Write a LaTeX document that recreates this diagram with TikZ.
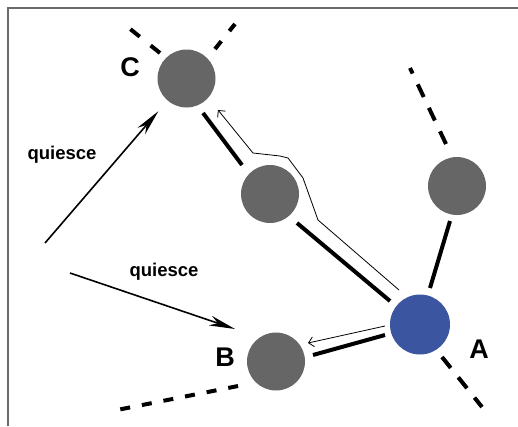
\documentclass[tikz,border=0pt]{standalone}
\usepackage{fontspec}
\setmainfont{Liberation Sans}
\usetikzlibrary{calc,arrows.meta}
\definecolor{nodegray}{HTML}{666666}
\definecolor{nodeblue}{HTML}{3C55A0}
\definecolor{framecol}{HTML}{6A6A6A}
\tikzset{
  peer/.style={circle,fill=nodegray,minimum size=58pt,inner sep=0pt},
  home/.style={circle,fill=nodeblue,minimum size=60pt,inner sep=0pt},
  link/.style={line width=4pt},
  far/.style={line width=4pt,dash pattern=on 14pt off 12pt},
  msg/.style={line width=0.8pt,-{Straight Barb[length=5pt,width=10pt]}},
  qarrow/.style={line width=1.6pt,-{Stealth[length=26pt,width=10pt,inset=8pt]}},
  biglab/.style={font=\bfseries\fontsize{27}{27}\selectfont},
  qlab/.style={font=\bfseries\fontsize{18.5}{18.5}\selectfont}
}
\begin{document}
\begin{tikzpicture}[x=1pt,y=-1pt]
\useasboundingbox (0,0) rectangle (518,426);
% frame
\draw[framecol,line width=2pt] (8,426) -- (8,8) -- (518,8);
% nodes
\node[peer] (C) at (186.5,78.5) {};
\node[peer] (M) at (270,194) {};
\node[peer] (R) at (457,186) {};
\node[home] (A) at (420,324.5) {};
\node[peer] (B) at (276,361.5) {};
% labels
\node[biglab] (lC) at (130,67) {C};
\node[biglab] (lB) at (225,357) {B};
\node[biglab] (lA) at (479,349) {A};
\node[qlab] (q1) at (62,155) {quiesce};
\node[qlab] (q2) at (164,272) {quiesce};
% links
\draw[link] ($(C)+(16.5,34.5)$) -- ($(M)+(-28,-29)$);
\draw[link] ($(M)+(27,29)$) -- ($(A)+(-30,-23.5)$);
\draw[link] ($(A)+(-35,10.5)$) -- ($(B)+(37,-6.5)$);
\draw[link] ($(A)+(10,-36.5)$) -- ($(R)+(-7,35)$);
% dashed links to the rest of the network
\coordinate (rEnd) at ($(R)+(-47,-118)$);
\coordinate (aEnd) at ($(A)+(62,82.5)$);
\coordinate (bEnd) at ($(B)+(-159,48.5)$);
\coordinate (cEnd1) at ($(C)+(-62.5,-54.5)$);
\coordinate (cEnd2) at ($(C)+(48.5,-54.5)$);
\draw[far] ($(R)+(-11,-42)$) -- (rEnd);
\draw[far] ($(A)+(22,32.5)$) -- (aEnd);
\draw[far,dash pattern=on 10pt off 12pt] ($(B)+(-38,24.5)$) -- (bEnd);
\draw[far,dash pattern=on 12pt off 14pt] ($(C)+(-26.5,-25.5)$) -- (cEnd1);
\draw[far,dash pattern=on 10pt off 13pt] ($(C)+(28.5,-29.5)$) -- (cEnd2);
% messages
\draw[msg] ($(A)+(-21,-34.5)$) -- ($(M)+(48,26)$) -- ($(M)+(33,-16)$) -- ($(M)+(18,-36)$)
  -- ($(M)+(10,-38)$) -- ($(M)+(-17,-41)$) -- ($(C)+(31.5,31.5)$);
\draw[msg] ($(A)+(-35,1.5)$) -- ($(B)+(32,-18.5)$);
% quiesce arrows
\coordinate (qs1) at (45,243);
\coordinate (qs2) at (70,273);
\coordinate (qe2) at (235,329);
\draw[qarrow,shorten >=14pt] (qs1) -- (C);
\draw[qarrow] (qs2) -- (qe2);
\end{tikzpicture}
\end{document}
